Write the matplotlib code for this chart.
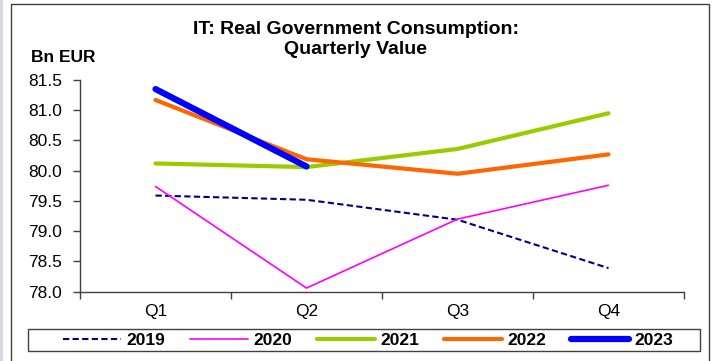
import matplotlib
matplotlib.use("Agg")
from matplotlib import pyplot as plt
import matplotlib.patches as patches

plt.rcParams['font.family'] = ['Liberation Sans', 'DejaVu Sans']

quarters = ["Q1", "Q2", "Q3", "Q4"]
years = ["2019", "2020", "2021", "2022", "2023"]
values = {
    "2019": [79.59, 79.52, 79.19, 78.39],
    "2020": [79.74, 78.06, 79.20, 79.76],
    "2021": [80.12, 80.06, 80.36, 80.95],
    "2022": [81.17, 80.19, 79.95, 80.27],
    "2023": [81.35, 80.07],
}
colors = {"2019": "#000080", "2020": "#FF00FF", "2021": "#99CC00",
          "2022": "#FF6600", "2023": "#0000FF"}
widths = {"2019": 1.5, "2020": 1.2, "2021": 3.0, "2022": 3.0, "2023": 4.5}
styles = {"2019": (0, (3, 1.6)), "2020": "-", "2021": "-", "2022": "-", "2023": "-"}

W, H = 712, 361
fig = plt.figure(figsize=(W / 100, H / 100), dpi=100)

# outer frame of the chart
frame = patches.Rectangle((11 / W, -0.05), (709 - 11) / W, 1.05 - 4 / H,
                          transform=fig.transFigure, fill=False,
                          edgecolor="#404040", linewidth=1.0)
fig.patches.append(frame)
strip = patches.Rectangle((0, 0), 3 / W, 1, transform=fig.transFigure,
                          facecolor="#d8d8e0", edgecolor="none")
fig.patches.append(strip)

ax = fig.add_axes([80 / W, 1 - 291.7 / H, (684 - 80) / W, (291.7 - 80) / H])
x = [1, 2, 3, 4]
handles = []
for yr in years:
    v = values[yr]
    ln, = ax.plot(x[:len(v)], v, color=colors[yr], lw=widths[yr],
                  linestyle=styles[yr], solid_capstyle="round",
                  dash_capstyle="butt", label=yr)
    handles.append(ln)

ax.set_xlim(0.5, 4.5)
ax.set_ylim(78.0, 81.5)
ax.set_yticks([78.0, 78.5, 79.0, 79.5, 80.0, 80.5, 81.0, 81.5])
ax.set_yticklabels([f"{t:.1f}" for t in ax.get_yticks()])
ax.set_xticks([0.5, 1.5, 2.5, 3.5, 4.5])
ax.set_xticklabels([])
ax.set_xticks(x, minor=True)
ax.set_xticklabels(quarters, minor=True)
ax.tick_params(axis="x", which="minor", length=0, pad=9, labelsize=12.5)
ax.tick_params(axis="x", which="major", length=5, width=1, color="#404040")
ax.tick_params(axis="y", length=5, width=1, color="#404040", pad=8, labelsize=12.5)
for s in ["top", "right"]:
    ax.spines[s].set_visible(False)
for s in ["left", "bottom"]:
    ax.spines[s].set_color("#404040")
    ax.spines[s].set_linewidth(1.0)

fig.text(0.5, 1 - 30 / H, "IT: Real Government Consumption:", ha="center",
         va="center", fontsize=14, fontweight="bold")
fig.text(0.5, 1 - 49 / H, "Quarterly Value", ha="center", va="center",
         fontsize=14, fontweight="bold")
fig.text(31 / W, 1 - 57.5 / H, "Bn EUR", ha="left", va="center",
         fontsize=12.5, fontweight="bold")

# legend box
legbox = patches.Rectangle((28 / W, 1 - 351 / H), (700 - 28) / W, 22 / H,
                           transform=fig.transFigure, fill=False,
                           edgecolor="#404040", linewidth=1.0)
fig.patches.append(legbox)
leg = fig.legend(handles=handles, loc="center", ncol=5,
                 bbox_to_anchor=(368 / W, 1 - 340 / H),
                 prop={"weight": "bold", "size": 12.5},
                 frameon=False, handlelength=3.33,
                 handletextpad=0.3, columnspacing=1.45, borderpad=0.0)

fig.savefig("out.png", dpi=100)
